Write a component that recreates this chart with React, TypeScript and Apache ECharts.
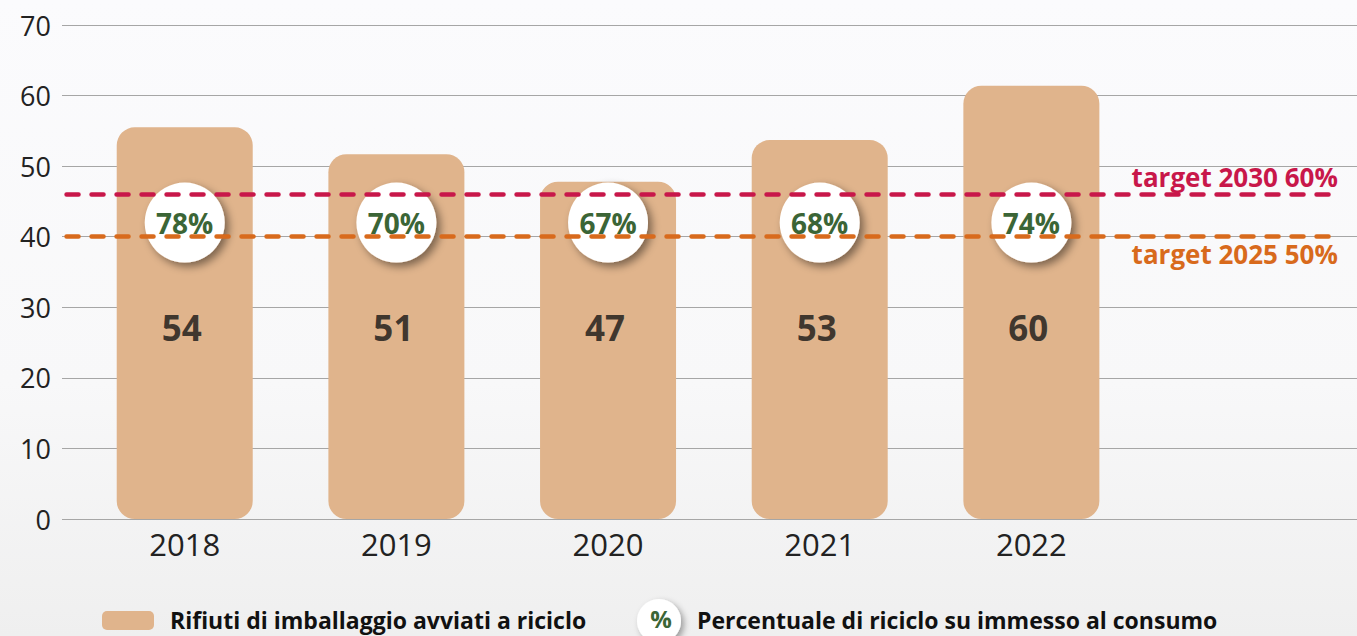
import React, { useEffect, useRef } from "react";
import * as echarts from "echarts";

const years = ["2018", "2019", "2020", "2021", "2022"];
const barHeights = [55.5, 51.7, 47.8, 53.7, 61.4];
const valueLabels = ["54", "51", "47", "53", "60"];
const percentLabels = ["78%", "70%", "67%", "68%", "74%"];
const yTicks = [0, 10, 20, 30, 40, 50, 60, 70];
const targets = [
  { value: 46, label: "target 2030 60%", color: "#c8174a", pos: "insideEndTop" },
  { value: 40, label: "target 2025 50%", color: "#d86a1c", pos: "insideEndBottom" },
];
const legendBar = "Rifiuti di imballaggio avviati a riciclo";
const legendPct = "Percentuale di riciclo su immesso al consumo";

const BAR = "#e0b48c";
const GREEN = "#3b6536";
const FONT = "'Open Sans', 'Noto Sans', sans-serif";

export default function App() {
  const ref = useRef<HTMLDivElement>(null);
  useEffect(() => {
    document.body.style.margin = "0";
    const chart = echarts.init(ref.current!, null, { renderer: "svg" });
    const top = 25;
    const bottom = 117;
    chart.setOption({
      animation: false,
      backgroundColor: {
        type: "linear", x: 0, y: 0, x2: 0, y2: 1,
        colorStops: [
          { offset: 0, color: "#fbfbfd" },
          { offset: 0.6, color: "#f8f8f9" },
          { offset: 1, color: "#efefef" },
        ],
      },
      textStyle: { fontFamily: FONT },
      grid: [
        { left: 78.9, width: 1058.3, top, bottom },
        { left: 62, right: 0, top, bottom },
      ],
      xAxis: [
        {
          type: "category", gridIndex: 0, data: years,
          axisLine: { show: false }, axisTick: { show: false },
          axisLabel: { color: "#222", fontSize: 31, margin: 9, fontFamily: FONT },
        },
        { type: "value", gridIndex: 1, min: 0, max: 1, show: false },
      ],
      yAxis: [
        { type: "value", gridIndex: 0, min: 0, max: 70, interval: 10, show: false },
        {
          type: "value", gridIndex: 1, min: yTicks[0], max: yTicks[yTicks.length - 1], interval: 10,
          axisLine: { show: false }, axisTick: { show: false },
          axisLabel: { color: "#222", fontSize: 27, margin: 11, fontFamily: FONT },
          splitLine: { lineStyle: { color: "#a6a6a6", width: 1.2 } },
        },
      ],
      series: [
        {
          type: "bar", xAxisIndex: 0, yAxisIndex: 0, z: 2,
          data: barHeights, barWidth: 136,
          itemStyle: { color: BAR, borderRadius: 18 },
        },
        {
          type: "line", xAxisIndex: 1, yAxisIndex: 1, z: 3, data: [],
          markLine: {
            silent: true, symbol: "none",
            data: targets.map((t) => [
              {
                coord: [0.0035, t.value],
                lineStyle: { color: t.color, width: 4.5, type: [12, 13], cap: "round" },
                label: {
                  show: true, position: t.pos, formatter: t.label, color: t.color,
                  fontSize: 26, fontWeight: "bold", fontFamily: FONT, distance: [1, 4],
                },
              },
              { coord: [0.986, t.value] },
            ]),
          },
        },
        {
          type: "scatter", xAxisIndex: 0, yAxisIndex: 0, z: 4,
          data: years.map((y) => [y, 42]),
          symbolSize: 80,
          itemStyle: {
            color: "#ffffff", shadowColor: "rgba(0,0,0,0.45)", shadowBlur: 9,
            shadowOffsetX: 4, shadowOffsetY: 4, opacity: 1,
          },
          label: {
            show: true, position: "inside",
            formatter: (p: any) => percentLabels[p.dataIndex],
            color: GREEN, fontSize: 28, fontWeight: "bold", fontFamily: FONT,
          },
        },
        {
          type: "scatter", xAxisIndex: 0, yAxisIndex: 0, z: 4,
          data: years.map((y) => [y, 27.2]),
          symbolSize: 1,
          itemStyle: { color: "rgba(0,0,0,0)" },
          label: {
            show: true, position: "inside", offset: [-3, 0],
            formatter: (p: any) => valueLabels[p.dataIndex],
            color: "#141414", fontSize: 35, fontWeight: "bold", fontFamily: FONT,
          },
        },
      ],
      graphic: [
        {
          type: "rect", left: 102, top: 611,
          shape: { width: 52, height: 19, r: 5 },
          style: { fill: BAR },
        },
        {
          type: "text", left: 170, top: 608,
          style: { text: legendBar, fill: "#111", font: `bold 23px ${FONT}` },
        },
        {
          type: "circle", shape: { cx: 659, cy: 621, r: 22 },
          style: { fill: "#fff", shadowColor: "rgba(0,0,0,0.35)", shadowBlur: 6, shadowOffsetX: 3, shadowOffsetY: 3 },
        },
        {
          type: "text", x: 661, y: 618,
          style: { text: "%", fill: GREEN, font: `bold 24px ${FONT}`, align: "center", verticalAlign: "middle" },
        },
        {
          type: "text", left: 697, top: 608,
          style: { text: legendPct, fill: "#111", font: `bold 23px ${FONT}` },
        },
      ],
    });
    return () => chart.dispose();
  }, []);
  return <div ref={ref} style={{ width: 1357, height: 636 }} />;
}
